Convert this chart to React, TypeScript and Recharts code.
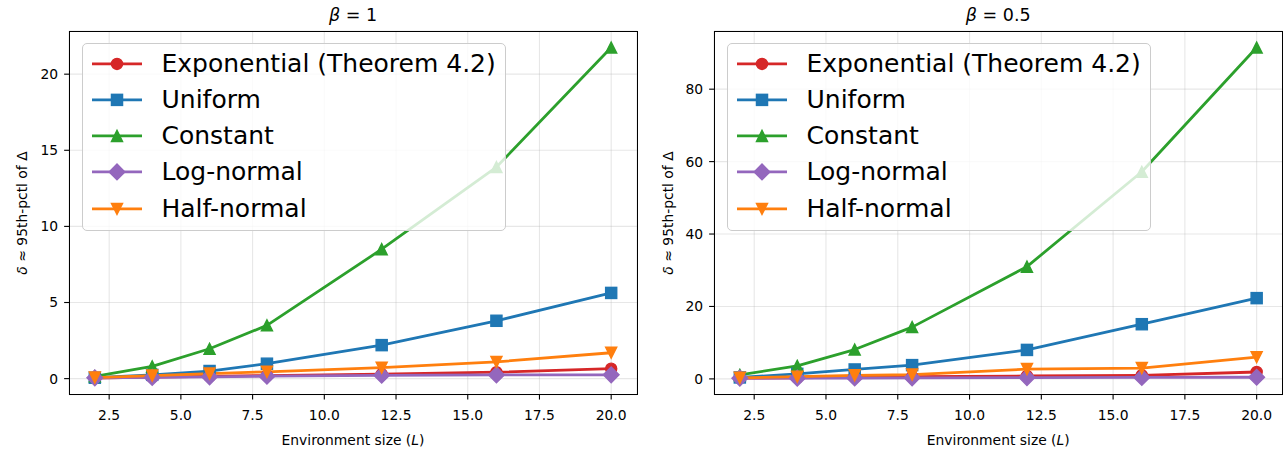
import React from 'react';
import { LineChart, Line, XAxis, YAxis, CartesianGrid, Legend } from 'recharts';

// ---------- data ----------
const L_VALUES = [2, 4, 6, 8, 12, 16, 20];
const X_TICKS = [2.5, 5, 7.5, 10, 12.5, 15, 17.5, 20];
const Y_TICKS_B1 = [0, 5, 10, 15, 20];
const Y_TICKS_B05 = [0, 20, 40, 60, 80];

const SERIES_NAMES = ['Exponential (Theorem 4.2)', 'Uniform', 'Constant', 'Log-normal', 'Half-normal'];

// beta = 1
const B1_EXPONENTIAL = [0.03, 0.1, 0.15, 0.2, 0.3, 0.42, 0.65];
const B1_UNIFORM = [0.06, 0.25, 0.5, 0.98, 2.2, 3.8, 5.63];
const B1_CONSTANT = [0.15, 0.8, 1.96, 3.5, 8.5, 13.9, 21.75];
const B1_LOGNORMAL = [0.05, 0.08, 0.12, 0.16, 0.22, 0.24, 0.25];
const B1_HALFNORMAL = [0.07, 0.2, 0.33, 0.45, 0.72, 1.1, 1.7];

// beta = 0.5
const B05_EXPONENTIAL = [0.2, 0.3, 0.5, 0.6, 0.8, 1.0, 1.9];
const B05_UNIFORM = [0.4, 1.4, 2.6, 3.8, 8.0, 15.1, 22.3];
const B05_CONSTANT = [1.1, 3.6, 8.1, 14.3, 31.0, 57.2, 91.5];
const B05_LOGNORMAL = [0.2, 0.2, 0.25, 0.3, 0.35, 0.4, 0.45];
const B05_HALFNORMAL = [0.3, 0.6, 1.0, 1.2, 2.7, 3.0, 6.0];

// ---------- styles ----------
const PT = 100 / 72;
const TICK_FS = 10 * PT;
const LEGEND_FS = 18 * PT;
const TITLE_FS = 17.5;
const LW = 2 * PT;
const MS = 8 * PT;
const MEW = 1 * PT;
const FONT = '"DejaVu Sans", sans-serif';

type Shape = 'circle' | 'square' | 'triangleUp' | 'diamond' | 'triangleDown';
const KEYS = ['exp', 'uni', 'con', 'logn', 'half'];
const COLORS = ['#d62728', '#1f77b4', '#2ca02c', '#9467bd', '#ff7f0e'];
const SHAPES: Shape[] = ['circle', 'square', 'triangleUp', 'diamond', 'triangleDown'];

function buildRows(cols: number[][]) {
  return L_VALUES.map((L, i) => {
    const row: any = { L };
    KEYS.forEach((k, j) => (row[k] = cols[j][i]));
    return row;
  });
}

const DATA_B1 = buildRows([B1_EXPONENTIAL, B1_UNIFORM, B1_CONSTANT, B1_LOGNORMAL, B1_HALFNORMAL]);
const DATA_B05 = buildRows([B05_EXPONENTIAL, B05_UNIFORM, B05_CONSTANT, B05_LOGNORMAL, B05_HALFNORMAL]);

function paddedDomain(cols: number[][]): [number, number] {
  const all = cols.flat();
  const lo = Math.min(...all);
  const hi = Math.max(...all);
  const m = (hi - lo) * 0.05;
  return [lo - m, hi + m];
}

const DOMAIN_B1 = paddedDomain([B1_EXPONENTIAL, B1_UNIFORM, B1_CONSTANT, B1_LOGNORMAL, B1_HALFNORMAL]);
const DOMAIN_B05 = paddedDomain([B05_EXPONENTIAL, B05_UNIFORM, B05_CONSTANT, B05_LOGNORMAL, B05_HALFNORMAL]);
const X_DOMAIN: [number, number] = [
  L_VALUES[0] - (L_VALUES[L_VALUES.length - 1] - L_VALUES[0]) * 0.05,
  L_VALUES[L_VALUES.length - 1] + (L_VALUES[L_VALUES.length - 1] - L_VALUES[0]) * 0.05,
];

function Marker({ shape, cx, cy, color }: { shape: Shape; cx: number; cy: number; color: string }) {
  const h = MS / 2;
  const common = { fill: color, stroke: color, strokeWidth: MEW, strokeLinejoin: 'miter' as const };
  switch (shape) {
    case 'circle':
      return <circle cx={cx} cy={cy} r={h} {...common} />;
    case 'square':
      return <rect x={cx - h} y={cy - h} width={MS} height={MS} {...common} />;
    case 'triangleUp':
      return <polygon points={`${cx},${cy - h} ${cx + h},${cy + h} ${cx - h},${cy + h}`} {...common} />;
    case 'diamond': {
      const d = h * Math.SQRT2;
      return <polygon points={`${cx},${cy - d} ${cx + d},${cy} ${cx},${cy + d} ${cx - d},${cy}`} {...common} />;
    }
    case 'triangleDown':
    default:
      return <polygon points={`${cx},${cy + h} ${cx + h},${cy - h} ${cx - h},${cy - h}`} {...common} />;
  }
}

function LegendBox() {
  const rowH = 0.95 * LEGEND_FS;
  const handleW = 2 * LEGEND_FS;
  return (
    <div
      style={{
        background: 'rgba(255,255,255,0.8)',
        border: '1px solid #cccccc',
        borderRadius: 0.2 * LEGEND_FS,
        padding: `${0.4 * LEGEND_FS - 2}px ${0.4 * LEGEND_FS - 1}px ${0.4 * LEGEND_FS}px ${0.4 * LEGEND_FS - 1}px`,
        fontFamily: FONT,
        fontSize: LEGEND_FS,
        color: '#000',
        display: 'inline-block',
        whiteSpace: 'nowrap',
      }}
    >
      {SERIES_NAMES.map((name, i) => (
        <div
          key={name}
          style={{
            display: 'flex',
            alignItems: 'center',
            height: rowH,
            marginTop: i === 0 ? 0 : 0.5 * LEGEND_FS,
          }}
        >
          <svg width={handleW} height={rowH} style={{ overflow: 'visible', flex: 'none' }}>
            <line x1={0} x2={handleW} y1={rowH / 2} y2={rowH / 2} stroke={COLORS[i]} strokeWidth={LW} />
            <Marker shape={SHAPES[i]} cx={handleW / 2} cy={rowH / 2} color={COLORS[i]} />
          </svg>
          <span style={{ marginLeft: 0.8 * LEGEND_FS, lineHeight: `${rowH}px` }}>{name}</span>
        </div>
      ))}
    </div>
  );
}

const PLOT_TOP = 31;
const PLOT_BOTTOM = 394.7;
const CHART_H = 455;

function Panel({
  left,
  width,
  plotLeft,
  plotRight,
  data,
  yTicks,
  yDomain,
  title,
  yLabelX,
}: {
  left: number;
  width: number;
  plotLeft: number;
  plotRight: number;
  data: any[];
  yTicks: number[];
  yDomain: [number, number];
  title: React.ReactNode;
  yLabelX: number;
}) {
  const yAxisW = plotLeft - left;
  const rightMargin = left + width - plotRight;
  const plotW = plotRight - plotLeft;
  const plotH = PLOT_BOTTOM - PLOT_TOP;
  const tickStyle = { fontSize: TICK_FS, fill: '#000', fontFamily: FONT };
  return (
    <div style={{ position: 'absolute', left, top: 0, width, height: CHART_H }}>
      <LineChart
        width={width}
        height={CHART_H}
        data={data}
        margin={{ top: PLOT_TOP, right: rightMargin, left: 0, bottom: 0 }}
      >
        <CartesianGrid stroke="#b0b0b0" strokeOpacity={0.3} strokeWidth={0.8 * PT} />
        <XAxis
          dataKey="L"
          type="number"
          domain={X_DOMAIN}
          ticks={X_TICKS}
          interval={0}
          allowDataOverflow
          tickFormatter={(v: number) => v.toFixed(1)}
          height={CHART_H - PLOT_BOTTOM}
          tickSize={3.5 * PT}
          tickMargin={11}
          axisLine={false}
          tick={tickStyle}
          tickLine={{ stroke: '#000', strokeWidth: 0.8 * PT }}
        />
        <YAxis
          type="number"
          domain={yDomain}
          ticks={yTicks}
          interval={0}
          allowDataOverflow
          width={yAxisW}
          tickSize={3.5 * PT}
          tickMargin={6}
          axisLine={false}
          tick={tickStyle}
          tickLine={{ stroke: '#000', strokeWidth: 0.8 * PT }}
        />
        {KEYS.map((k, i) => (
          <Line
            key={k}
            type="linear"
            dataKey={k}
            name={SERIES_NAMES[i]}
            stroke={COLORS[i]}
            strokeWidth={LW}
            strokeLinejoin="round"
            isAnimationActive={false}
            activeDot={false}
            dot={(p: any) => (
              <Marker key={`${k}-${p.index}`} shape={SHAPES[i]} cx={p.cx} cy={p.cy} color={COLORS[i]} />
            )}
          />
        ))}
        <Legend
          layout="horizontal"
          verticalAlign="middle"
          align="center"
          content={() => <LegendBox />}
          wrapperStyle={{
            left: plotLeft - left + 0.5 * LEGEND_FS,
            top: PLOT_TOP + 0.5 * LEGEND_FS - 1,
            width: 'auto',
            height: 'auto',
          }}
        />
      </LineChart>
      {/* frame */}
      <div
        style={{
          position: 'absolute',
          left: plotLeft - left - 0.5,
          top: PLOT_TOP - 0.5,
          width: plotW + 1,
          height: plotH + 1,
          border: '1px solid #000',
          boxSizing: 'border-box',
          pointerEvents: 'none',
        }}
      />
      {/* title */}
      <div
        style={{
          position: 'absolute',
          left: plotLeft - left,
          width: plotW,
          top: 4.6,
          textAlign: 'center',
          fontFamily: FONT,
          fontSize: TITLE_FS,
          lineHeight: '20px',
          color: '#000',
          whiteSpace: 'nowrap',
        }}
      >
        {title}
      </div>
      {/* x label */}
      <div
        style={{
          position: 'absolute',
          left: plotLeft - left,
          width: plotW,
          top: 432,
          textAlign: 'center',
          fontFamily: FONT,
          fontSize: TICK_FS,
          lineHeight: '16px',
          color: '#000',
          whiteSpace: 'nowrap',
        }}
      >
        Environment size (<i>L</i>)
      </div>
      {/* y label */}
      <div
        style={{
          position: 'absolute',
          left: yLabelX - left,
          top: (PLOT_TOP + PLOT_BOTTOM) / 2,
          transform: 'translate(-50%, -50%) rotate(-90deg)',
          fontFamily: FONT,
          fontSize: TICK_FS,
          lineHeight: '16px',
          color: '#000',
          whiteSpace: 'nowrap',
        }}
      >
        <i>δ</i> ≈ 95th-pctl of Δ
      </div>
    </div>
  );
}

export default function App() {
  return (
    <div style={{ position: 'absolute', left: 0, top: 0, width: 1287, height: 455, background: '#fff' }}>
      <Panel
        left={0}
        width={645}
        plotLeft={69}
        plotRight={637}
        data={DATA_B1}
        yTicks={Y_TICKS_B1}
        yDomain={DOMAIN_B1}
        title={
          <>
            <i>β</i> = 1
          </>
        }
        yLabelX={22}
      />
      <Panel
        left={645}
        width={642}
        plotLeft={714}
        plotRight={1282.5}
        data={DATA_B05}
        yTicks={Y_TICKS_B05}
        yDomain={DOMAIN_B05}
        title={
          <>
            <i>β</i> = 0.5
          </>
        }
        yLabelX={668}
      />
    </div>
  );
}
